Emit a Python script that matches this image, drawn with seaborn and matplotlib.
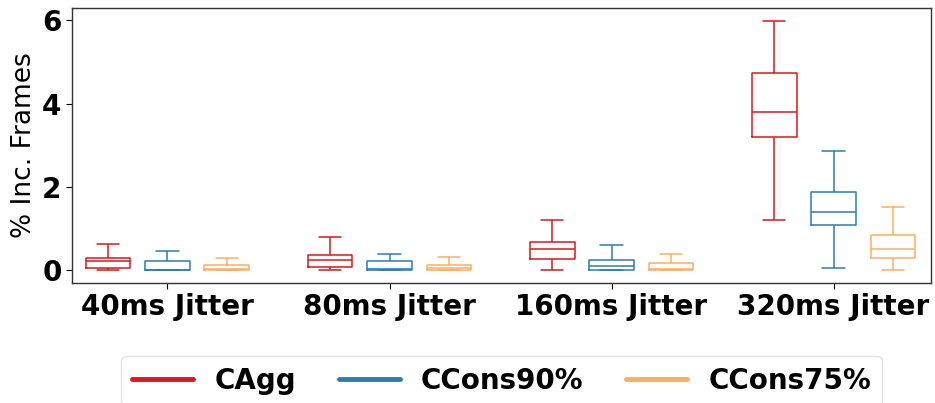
import matplotlib
matplotlib.use("Agg")
import matplotlib.pyplot as plt
from matplotlib.lines import Line2D
import pandas as pd
import seaborn as sns

# Jitter conditions on the x axis
jitters = ["40ms Jitter", "80ms Jitter", "160ms Jitter", "320ms Jitter"]
schemes = ["CAgg", "CCons90%", "CCons75%"]
colors = ["#d7191c", "#2c7bb6", "#fdae61"]

# Five-number summaries (min, Q1, median, Q3, max) of % incomplete frames
cagg = [
    [0.00, 0.06, 0.22, 0.29, 0.64],
    [0.00, 0.08, 0.24, 0.36, 0.81],
    [0.01, 0.28, 0.52, 0.69, 1.22],
    [1.22, 3.21, 3.80, 4.74, 5.99],
]
ccons90 = [
    [0.00, 0.00, 0.02, 0.22, 0.47],
    [0.00, 0.00, 0.04, 0.22, 0.40],
    [0.00, 0.01, 0.10, 0.24, 0.60],
    [0.05, 1.09, 1.40, 1.87, 2.87],
]
ccons75 = [
    [0.00, 0.00, 0.04, 0.13, 0.29],
    [0.00, 0.00, 0.06, 0.13, 0.32],
    [0.00, 0.00, 0.04, 0.18, 0.40],
    [0.02, 0.29, 0.52, 0.84, 1.51],
]

rows = []
for name, series in zip(schemes, [cagg, ccons90, ccons75]):
    for jit, summary in zip(jitters, series):
        for v in summary:
            rows.append({"jitter": jit, "scheme": name, "value": v})
df = pd.DataFrame(rows)

sns.set_theme(style="ticks")
plt.rcParams["font.family"] = ["DejaVu Sans"]
plt.rcParams["text.color"] = "black"
plt.rcParams["axes.labelcolor"] = "black"

fig = plt.figure(figsize=(9.35, 4.03), dpi=100)
ax = fig.add_axes([0.077, 0.298, 0.919, 0.682])

sns.boxplot(
    data=df, x="jitter", y="value", hue="scheme",
    order=jitters, hue_order=schemes, palette=colors,
    fill=False, whis=(0, 100), showfliers=False,
    width=0.8, gap=0.25, linewidth=1.1, legend=False, ax=ax,
)

ax.set_xlim(-0.43, 3.44)
ax.set_yticks([0, 2, 4, 6])
ax.set_xlabel("")
ax.set_ylabel("% Inc. Frames", fontsize=19, color="black")
ax.tick_params(axis="both", labelsize=20, colors="black", length=4, width=0.8)
for lab in ax.get_xticklabels() + ax.get_yticklabels():
    lab.set_fontweight("bold")
for s in ax.spines.values():
    s.set_color("#333333")
    s.set_linewidth(1.0)

handles = [Line2D([0], [0], color=c, lw=3.5) for c in colors]
leg = ax.legend(
    handles, schemes, loc="upper center", bbox_to_anchor=(0.5, -0.265),
    ncol=3, frameon=True, handlelength=2.2, handletextpad=0.75,
    columnspacing=1.55, prop={"weight": "bold", "size": 20},
    borderaxespad=0,
)
leg.get_frame().set_edgecolor("#dddddd")
for t in leg.get_texts():
    t.set_color("black")

fig.savefig("out.png", dpi=100)
